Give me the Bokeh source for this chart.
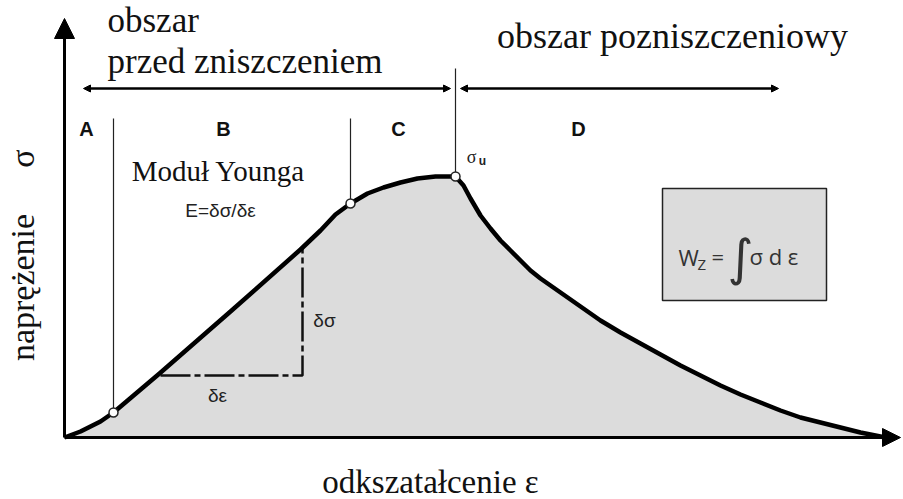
from bokeh.plotting import figure
from bokeh.models import Range1d, Arrow, NormalHead
from bokeh.core.properties import value
from bokeh.embed import file_html
from bokeh.resources import INLINE

# ---- data (schematic units) ----
strain = [0.0, 0.16, 0.36, 0.49, 0.95, 1.66, 2.36, 2.56, 2.71, 2.86, 3.03, 3.19, 3.36,
          3.53, 3.71, 3.91, 3.99, 4.06, 4.16, 4.26, 4.36, 4.46, 4.56, 4.66, 4.76, 4.86,
          4.96, 5.16, 5.36, 5.56, 5.76, 5.96, 6.16, 6.36, 6.56, 6.76, 6.96, 7.16, 7.36,
          7.56, 7.76, 7.96, 8.21]
stress = [0.0, 0.06, 0.16, 0.25, 0.64, 1.26, 1.88, 2.07, 2.23, 2.34, 2.44, 2.50, 2.55,
          2.59, 2.61, 2.61, 2.52, 2.39, 2.22, 2.09, 1.97, 1.87, 1.77, 1.67, 1.59, 1.52,
          1.45, 1.31, 1.17, 1.05, 0.94, 0.83, 0.72, 0.62, 0.52, 0.43, 0.35, 0.27, 0.20,
          0.15, 0.10, 0.05, 0.0]

key_strain = [0.49, 2.86, 3.91]      # boundaries A/B, B/C, C/D (ultimate)
key_stress = [0.25, 2.34, 2.61]
boundary_top = [3.19, 3.19, 3.69]

region_labels = ["A", "B", "C", "D"]
region_x = [0.22, 1.59, 3.34, 5.14]

tri_strain = [0.96, 2.38, 2.38]      # slope triangle corners
tri_stress = [0.62, 0.62, 1.89]

SERIF = value("Liberation Serif")
SANS = value("Liberation Sans")

p = figure(width=903, height=499, x_range=Range1d(-0.64, 8.39), y_range=Range1d(-0.62, 4.37),
           output_backend="svg", toolbar_location=None, min_border=0,
           x_axis_location=None, y_axis_location=None)
p.min_border_left = p.min_border_right = p.min_border_top = p.min_border_bottom = 0
p.grid.visible = False
p.outline_line_color = None
p.background_fill_color = "white"

# filled area under curve
p.varea(x=strain, y1=[0] * len(strain), y2=stress, fill_color="#dcdcdc")

# slope triangle (dash-dot)
p.line(x=tri_strain, y=tri_stress, line_color="#111", line_width=2.5, line_dash="30 4 6 4")

# region boundary lines
p.segment(x0=key_strain, y0=key_stress, x1=key_strain, y1=boundary_top,
          line_color="#222", line_width=1.2)

# curve
p.line(x=strain, y=stress, line_color="black", line_width=4.5, line_join="round")

# axes with arrows
p.add_layout(Arrow(x_start=0, y_start=0, x_end=0, y_end=4.19, line_width=3, line_color="black",
                   end=NormalHead(size=20, fill_color="black", line_color="black")))
p.add_layout(Arrow(x_start=0, y_start=0, x_end=8.36, y_end=0, line_width=3, line_color="black",
                   end=NormalHead(size=18, fill_color="black", line_color="black")))

# region range arrows
for xs, xe in [(0.19, 3.86), (3.96, 7.14)]:
    p.add_layout(Arrow(x_start=xs, y_start=3.49, x_end=xe, y_end=3.49, line_width=2.5,
                       line_color="black",
                       start=NormalHead(size=7, fill_color="black", line_color="black"),
                       end=NormalHead(size=7, fill_color="black", line_color="black")))

# markers
p.scatter(x=key_strain, y=key_stress, marker="circle", size=9, fill_color="white",
          line_color="#222", line_width=1.5)

# work box
p.quad(left=[5.98], right=[7.62], top=[2.49], bottom=[1.37], fill_color="#dcdcdc",
       line_color="#222", line_width=1.5)

# texts
p.text(x=[0.43], y=[4.17], text=["obszar"], text_font=SERIF, text_font_size="35px",
       text_align="left", text_baseline="middle", text_color="#111")
p.text(x=[0.43], y=[3.76], text=["przed zniszczeniem"], text_font=SERIF, text_font_size="35px",
       text_align="left", text_baseline="middle", text_color="#111")
p.text(x=[6.08], y=[4.02], text=["obszar pozniszczeniowy"], text_font=SERIF,
       text_font_size="36px", text_align="center", text_baseline="middle", text_color="#111")

p.text(x=region_x, y=[3.09] * 4, text=region_labels, text_font=SANS, text_font_size="20px",
       text_font_style="bold", text_align="center", text_baseline="middle", text_color="#111")

p.text(x=[1.54], y=[2.67], text=["Moduł Younga"], text_font=SERIF, text_font_size="29px",
       text_align="center", text_baseline="middle", text_color="#111")
p.text(x=[1.56], y=[2.27], text=["E=δσ/δε"], text_font=SANS, text_font_size="19px",
       text_align="center", text_baseline="middle", text_color="#222")
p.text(x=[2.60], y=[1.17], text=["δσ"], text_font=SANS, text_font_size="19px",
       text_align="center", text_baseline="middle", text_color="#222")
p.text(x=[1.53], y=[0.42], text=["δε"], text_font=SANS, text_font_size="19px",
       text_align="center", text_baseline="middle", text_color="#222")
p.text(x=[4.07], y=[2.81], text=["σ"], text_font=SERIF, text_font_size="18px",
       text_align="center", text_baseline="middle", text_color="#222")
p.text(x=[4.18], y=[2.77], text=["u"], text_font=SANS, text_font_size="12px",
       text_font_style="bold", text_align="center", text_baseline="middle", text_color="#222")

# formula in box
BOXF = value("Open Sans")
p.text(x=[6.14], y=[1.81], text=["W"], text_font=BOXF, text_font_size="22px",
       text_align="left", text_baseline="middle", text_color="#333")
p.text(x=[6.33], y=[1.74], text=["Z"], text_font=BOXF, text_font_size="15px",
       text_align="left", text_baseline="middle", text_color="#333")
p.text(x=[6.47], y=[1.82], text=["="], text_font=BOXF, text_font_size="22px",
       text_align="left", text_baseline="middle", text_color="#333")
p.text(x=[6.76], y=[1.80], text=["∫"], text_font=value("DejaVu Sans"), text_font_size="50px",
       text_align="center", text_baseline="middle", text_color="#333")
p.text(x=[6.85], y=[1.82], text=["σ d ε"], text_font=BOXF, text_font_size="22px",
       text_align="left", text_baseline="middle", text_color="#333")

# axis titles
p.text(x=[3.66], y=[-0.44], text=["odkszatałcenie ε"], text_font=SERIF, text_font_size="33px",
       text_align="center", text_baseline="middle", text_color="#111")
p.text(x=[-0.42], y=[1.50], text=["naprężenie"], text_font=SERIF, text_font_size="34px",
       angle=1.5708, text_align="center", text_baseline="middle", text_color="#111")
p.text(x=[-0.42], y=[2.79], text=["σ"], text_font=SERIF, text_font_size="34px",
       angle=1.5708, text_align="center", text_baseline="middle", text_color="#111")

open("out.html", "w").write(file_html(p, INLINE))
